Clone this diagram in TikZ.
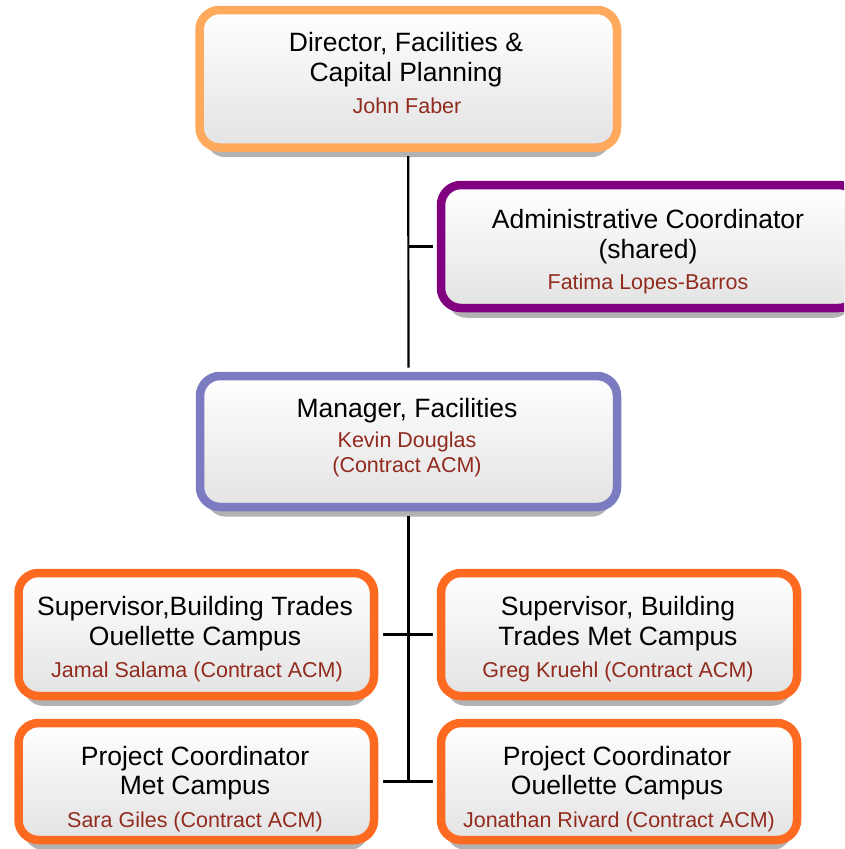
\documentclass[tikz,border=0pt]{standalone}
\usepackage{fontspec}
\setmainfont{Liberation Sans}
\usetikzlibrary{shadows}
\definecolor{orlight}{HTML}{FFA95C}
\definecolor{orstrong}{HTML}{FF6A21}
\definecolor{purp}{HTML}{800080}
\definecolor{lavender}{HTML}{7B7BC2}
\definecolor{namecol}{HTML}{922B1E}
\begin{document}
\begin{tikzpicture}[x=1pt,y=-1pt,
  box/.style={rectangle, rounded corners=20pt, line width=8.5pt,
    top color=white, bottom color=black!11, inner sep=0pt,
    drop shadow={shadow xshift=0pt, shadow yshift=-12pt, shadow scale=0.97, fill=black!30, opacity=1}},
  title/.style={font=\fontsize{26.5}{30}\selectfont, anchor=base, inner sep=0pt},
  pname/.style={font=\fontsize{21.5}{25}\selectfont, anchor=base, inner sep=0pt, text=namecol},
  conn/.style={line width=2.2pt, black}]
\clip (0,0) rectangle (844,849);
\fill[white] (0,0) rectangle (844,849);
% boxes
\node[box, draw=orlight, minimum width=417.5pt, minimum height=137.5pt] (dir) at (408.25,78.75) {};
\node[box, draw=purp, minimum width=417.5pt, minimum height=123pt] (adm) at (649.75,246.5) {};
\node[box, draw=lavender, minimum width=417pt, minimum height=131pt] (mgr) at (408.5,441.5) {};
\node[box, draw=orstrong, minimum width=355.5pt, minimum height=123pt] (sup1) at (196.25,634.5) {};
\node[box, draw=orstrong, minimum width=356pt, minimum height=123pt] (sup2) at (619,634.5) {};
\node[box, draw=orstrong, minimum width=355.5pt, minimum height=117pt] (pc1) at (196.25,781.5) {};
\node[box, draw=orstrong, minimum width=356pt, minimum height=117pt] (pc2) at (619,781.5) {};
% connectors
\draw[conn, shorten <=4.25pt, shorten >=4.25pt] (dir.south) -- (mgr.north);
\draw[conn, shorten <=4.25pt] (adm.west) -- (adm.west -| dir.south);
\draw[conn, shorten <=4.25pt] (mgr.south) -- (mgr.south |- pc1.east);
\draw[conn, shorten <=4.25pt, shorten >=4.25pt] (sup1.east) -- (sup2.west);
\draw[conn, shorten <=4.25pt, shorten >=4.25pt] (pc1.east) -- (pc2.west);
% texts
\node[title] (dirA) at (406,51) {Director, Facilities \&};
\node[title] (dirB) at (406,81) {Capital Planning};
\node[pname] (dirN) at (407,113) {John Faber};
\node[title] (admA) at (648,228) {Administrative Coordinator};
\node[title] (admB) at (648,258) {(shared)};
\node[pname] (admN) at (648,289) {Fatima Lopes-Barros};
\node[title] (mgrA) at (407,417) {Manager, Facilities};
\node[pname] (mgrN) at (407,447) {Kevin Douglas};
\node[pname] (mgrC) at (407,472) {(Contract ACM)};
\node[title] (sup1A) at (195,615) {Supervisor,Building Trades};
\node[title] (sup1B) at (195,645) {Ouellette Campus};
\node[pname] (sup1N) at (197,677) {Jamal Salama (Contract ACM)};
\node[title] (sup2A) at (618,615) {Supervisor, Building};
\node[title] (sup2B) at (618,645) {Trades Met Campus};
\node[pname] (sup2N) at (618,677) {Greg Kruehl (Contract ACM)};
\node[title] (pc1A) at (195,765) {Project Coordinator};
\node[title] (pc1B) at (195,794) {Met Campus};
\node[pname] (pc1N) at (195,827) {Sara Giles (Contract ACM)};
\node[title] (pc2A) at (617,765) {Project Coordinator};
\node[title] (pc2B) at (617,794) {Ouellette Campus};
\node[pname] (pc2N) at (619,827) {Jonathan Rivard (Contract ACM)};
\end{tikzpicture}
\end{document}
